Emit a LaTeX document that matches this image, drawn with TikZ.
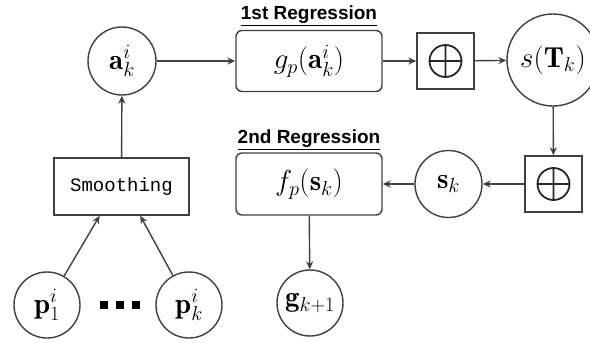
\RequirePackage{fix-cm}
\documentclass[tikz,border=0pt]{standalone}
\usepackage{amsmath}
\usepackage{fontspec}
\newfontfamily\labfont{Liberation Sans}[BoldFont={Liberation Sans Bold}]
\newfontfamily\monofont{Liberation Mono}
\usetikzlibrary{arrows.meta,calc}
\begin{document}
\begin{tikzpicture}[x=1pt,y=-1pt,
  line width=1.4pt,
  every node/.style={draw=black!75, line width=1.4pt, inner sep=0pt, font=\fontsize{29}{33}\selectfont},
  circ/.style={circle, minimum size=#1},
  rbox/.style={rectangle, rounded corners=6pt, minimum width=146pt, minimum height=61pt},
  opbox/.style={rectangle, minimum width=57pt, minimum height=56pt},
  arr/.style={draw=black!75, line width=1.4pt, -{Stealth[length=8pt,width=7pt]}},
  lab/.style={draw=none, font=\labfont\bfseries\fontsize{19}{22}\selectfont}
]
\useasboundingbox (0,0) rectangle (590,343);
\node[circ=68pt] (a) at (122,61) {$\mathbf{a}_k^i$};
\node[rbox] (gp) at (309,61) {$g_p(\mathbf{a}_k^i)$};
\node[opbox] (op1) at (445.5,61) {};
\node[circ=92pt] (sT) at (553,60) {$s(\mathbf{T}_k)$};
\node[opbox] (op2) at (553.5,184) {};
\node[circ=67pt] (sk) at (448.5,184) {$\mathbf{s}_k$};
\node[rbox, minimum height=62pt] (fp) at (309,184) {$f_p(\mathbf{s}_k)$};
\node[circ=66pt] (g) at (310,303) {$\mathbf{g}_{k+1}$};
\node[rectangle, minimum width=135pt, minimum height=57pt, font=\monofont\fontsize{19}{22}\selectfont] (sm) at (121.5,186.5) {Smoothing};
\node[circ=66pt] (p1) at (47,305) {$\mathbf{p}_1^i$};
\node[circ=66pt] (pk) at (189,305) {$\mathbf{p}_k^i$};
\node[draw=none] (dots) at (120,305) {\rule{8pt}{8pt}\hspace{8pt}\rule{8pt}{8pt}\hspace{8pt}\rule{8pt}{8pt}};
\node[lab, anchor=base] (l1) at (309,19) {\underline{1st Regression}};
\node[lab, anchor=base] (l2) at (309,143) {\underline{2nd Regression}};
% oplus symbols
\foreach \o in {op1,op2}{
  \draw[line width=1.8pt, black!85] (\o.center) circle (16pt)
     ($(\o.center)+(-16,0)$) -- ($(\o.center)+(16,0)$)
     ($(\o.center)+(0,-16)$) -- ($(\o.center)+(0,16)$);
}
\coordinate (s1) at ($(sm.south west)!0.34!(sm.south east)$);
\coordinate (s2) at ($(sm.south west)!0.637!(sm.south east)$);
\draw[arr] (a) -- (gp);
\draw[arr] (gp) -- (op1);
\draw[arr] (op1) -- (sT);
\draw[arr] (sT) -- (op2);
\draw[arr] (op2) -- (sk);
\draw[arr] (sk) -- (fp);
\draw[arr] (fp) -- (g);
\draw[arr] (sm) -- (a);
\draw[arr] (p1) -- (s1);
\draw[arr] (pk) -- (s2);
\end{tikzpicture}
\end{document}
